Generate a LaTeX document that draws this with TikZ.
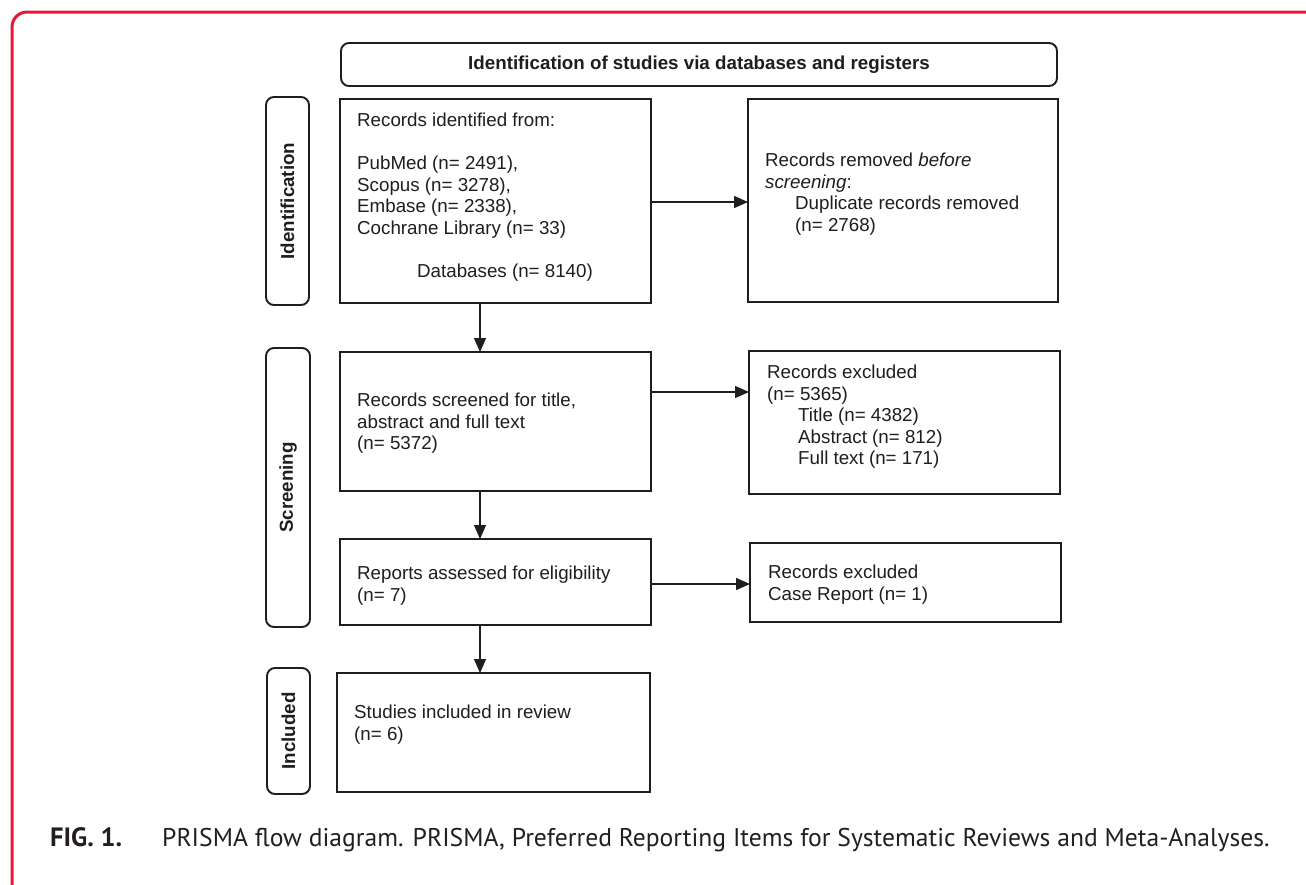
\documentclass[tikz,border=0pt]{standalone}
\usepackage{fontspec}
\setmainfont{Liberation Sans}
\newfontfamily\capfont{PT Sans}
\usetikzlibrary{arrows.meta}
\definecolor{framered}{HTML}{E31837}
\definecolor{ink}{HTML}{1E1E1E}
\definecolor{capink}{HTML}{231F20}
\begin{document}
\begin{tikzpicture}[x=1pt,y=-1pt,
  box/.style={draw=ink, line width=1.9pt, inner sep=0pt, outer sep=0pt},
  rbox/.style={box, rounded corners=8pt},
  txt/.style={anchor=north west, inner sep=0pt, align=left, text=ink,
              font=\fontsize{18.75}{21.5}\selectfont},
  btxt/.style={inner sep=0pt, text=ink, font=\fontsize{18.75}{21.5}\selectfont\bfseries},
  arr/.style={draw=ink, line width=1.3pt, -{Triangle[length=14pt,width=12pt]}}]
\useasboundingbox (0,0) rectangle (1306,884);
\fill[white] (0,0) rectangle (1306,884);
% red frame
\draw[framered, line width=3pt, rounded corners=15pt] (1330,12) -- (12,12) -- (12,910);
% header
\node[rbox, minimum width=716pt, minimum height=43pt] (hdr) at (699,64.5) {};
\node[btxt] (hdrt) at (hdr.center) {Identification of studies via databases and registers};
% side labels
\node[rbox, minimum width=43pt, minimum height=208pt] (s1) at (287.5,201) {};
\node[btxt, rotate=90] (s1t) at (s1.center) {Identification};
\node[rbox, minimum width=44pt, minimum height=279pt] (s2) at (288,487.5) {};
\node[btxt, rotate=90] (s2t) at (s2.center) {Screening};
\node[rbox, minimum width=43pt, minimum height=126pt] (s3) at (288.5,731) {};
\node[btxt, rotate=90] (s3t) at (s3.center) {Included};
% boxes
\node[box, minimum width=311pt, minimum height=204pt] (b1) at (495.5,201) {};
\node[box, minimum width=310pt, minimum height=203pt] (b2) at (903,200.5) {};
\node[box, minimum width=311pt, minimum height=139pt] (b3) at (495.5,421.5) {};
\node[box, minimum width=311pt, minimum height=143pt] (b4) at (904.5,422.5) {};
\node[box, minimum width=311pt, minimum height=86pt] (b5) at (495.5,582) {};
\node[box, minimum width=311pt, minimum height=79pt] (b6) at (905.5,582.5) {};
\node[box, minimum width=313pt, minimum height=119pt] (b7) at (493.5,732.5) {};
% texts
\node[txt] (t1) at (357,112.8) {Records identified from:\\[21.5pt]
PubMed (n= 2491),\\Scopus (n= 3278),\\Embase (n= 2338),\\Cochrane Library (n= 33)\\[21.5pt]
\hspace*{60pt}Databases (n= 8140)};
\node[txt] (t2) at (765,152.8) {Records removed \textit{before}\\\textit{screening}:\\
\hspace*{30pt}Duplicate records removed\\\hspace*{30pt}(n= 2768)};
\node[txt] (t3) at (357,392.8) {Records screened for title,\\abstract and full text\\(n= 5372)};
\node[txt] (t4) at (767,364.8) {Records excluded\\(n= 5365)\\
\hspace*{31pt}Title (n= 4382)\\\hspace*{31pt}Abstract (n= 812)\\\hspace*{31pt}Full text (n= 171)};
\node[txt] (t5) at (357,565.8) {Reports assessed for eligibility\\(n= 7)};
\node[txt] (t6) at (768,564.8) {Records excluded\\Case Report (n= 1)};
\node[txt] (t7) at (354,704.8) {Studies included in review\\(n= 6)};
% connectors
\coordinate (a1) at (0,202);
\coordinate (a2) at (0,392);
\coordinate (a3) at (0,584);
\coordinate (dx) at (480,0);
\draw[arr] (b1.east |- a1) -- (b2.west |- a1);
\draw[arr] (b3.east |- a2) -- (b4.west |- a2);
\draw[arr] (b5.east |- a3) -- (b6.west |- a3);
\draw[arr] (b1.south -| dx) -- (b3.north -| dx);
\draw[arr] (b3.south -| dx) -- (b5.north -| dx);
\draw[arr] (b5.south -| dx) -- (b7.north -| dx);
% caption
\node[anchor=base west, inner sep=0pt, text=capink, font=\capfont\fontsize{26.5}{30}\selectfont\bfseries] (fig) at (50,846) {FIG. 1.};
\node[anchor=base west, inner sep=0pt, text=capink, font=\capfont\fontsize{25.6}{30}\selectfont] (cap) at (162,846) {PRISMA flow diagram. PRISMA, Preferred Reporting Items for Systematic Reviews and Meta-Analyses.};
\end{tikzpicture}
\end{document}
